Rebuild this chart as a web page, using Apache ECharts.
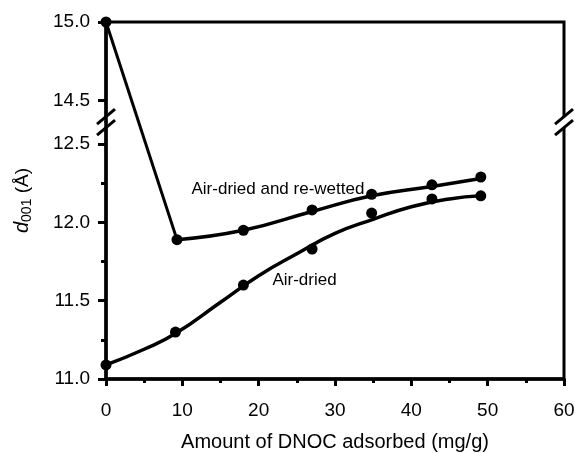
<!DOCTYPE html>
<html>
<head>
<meta charset="utf-8">
<script src="https://cdn.jsdelivr.net/npm/echarts@6/dist/echarts.min.js"></script>
<style>
html, body { margin: 0; padding: 0; background: #fff; }
#main { width: 575px; height: 453px; }
</style>
</head>
<body>
<div id="main"></div>
<script>
// measured points
var wettedX = [0, 9.3, 18, 27, 34.8, 42.7, 49.1];
var wettedY = [15.0, 11.89, 11.95, 12.08, 12.18, 12.24, 12.29];
var driedX = [0, 9.1, 18, 27, 34.8, 42.7, 49.1];
var driedY = [11.09, 11.30, 11.60, 11.83, 12.06, 12.15, 12.17];

// fitted curves as drawn in the figure
var wettedFitX = [9.3, 18, 27, 34.8, 42.7, 49.1];
var wettedFitY = [11.89, 11.95, 12.07, 12.17, 12.23, 12.28];
var driedFitX = [0, 5, 9.1, 15, 20, 25, 30, 35, 40, 45, 49.1];
var driedFitY = [11.09, 11.19, 11.29, 11.49, 11.66, 11.80, 11.93, 12.02, 12.10, 12.15, 12.17];

// y ticks (axis is cut between breakLow and breakHigh)
var yTicks = [11.0, 11.5, 12.0, 12.5, 14.5, 15.0];
var yMinorTicks = [11.25, 11.75, 12.25];
var breakLow = 12.64;
var breakHigh = 14.36;

function pairs(xs, ys) {
    return xs.map(function (x, i) { return [x, ys[i]]; });
}

var main = echarts.init(document.getElementById('main'));

var font = 'Liberation Sans, Arial, sans-serif';

var yBase = {
    type: 'value',
    min: 11, max: 15,
    breaks: [{ start: breakLow, end: breakHigh, gap: 0 }],
    breakArea: { show: false },
    splitLine: { show: false }
};

option = {
    animation: false,
    textStyle: { fontFamily: font },
    grid: {
        left: 106, right: 11, top: 22, bottom: 74,
        outerBoundsMode: 'none',
        containLabel: false,
        show: true,
        borderColor: '#000',
        borderWidth: 3
    },
    xAxis: {
        type: 'value',
        min: 0, max: 60, interval: 10,
        name: 'Amount of DNOC adsorbed (mg/g)',
        nameLocation: 'middle',
        nameGap: 53,
        nameTextStyle: { fontSize: 20, color: '#000', fontFamily: font },
        axisLine: { lineStyle: { color: '#000', width: 3.5 } },
        axisTick: { inside: false, length: 7, lineStyle: { width: 3, color: '#000' } },
        minorTick: { show: true, splitNumber: 2, length: 4, lineStyle: { width: 3, color: '#000' } },
        axisLabel: { fontSize: 19, color: '#000', margin: 22, fontFamily: font },
        splitLine: { show: false }
    },
    yAxis: [
        Object.assign({}, yBase, {
            name: '{it|d}{sub|001} (Å)',
            nameLocation: 'middle',
            nameGap: 72,
            nameRotate: 90,
            nameTextStyle: {
                fontSize: 19, color: '#000', fontFamily: font,
                rich: {
                    it: { fontSize: 20, fontStyle: 'italic', color: '#000', fontFamily: font },
                    sub: { fontSize: 14, color: '#000', verticalAlign: 'bottom', padding: [9, 0, 0, 0], fontFamily: font }
                }
            },
            axisLine: { show: true, lineStyle: { color: '#000', width: 3.5 } },
            axisTick: { inside: false, length: 8, customValues: yTicks, lineStyle: { width: 3, color: '#000' } },
            axisLabel: {
                fontSize: 19, color: '#000', margin: 16, fontFamily: font,
                customValues: yTicks,
                formatter: function (v) { return v.toFixed(1); }
            }
        }),
        Object.assign({}, yBase, {
            position: 'left',
            axisLine: { show: false },
            axisTick: { show: true, inside: false, length: 5, customValues: yMinorTicks, lineStyle: { width: 3, color: '#000' } },
            axisLabel: { show: false }
        })
    ],
    series: [
        {
            name: 'drop', type: 'line', symbol: 'none',
            data: pairs(wettedX.slice(0, 2), wettedY.slice(0, 2)),
            lineStyle: { color: '#000', width: 3 }
        },
        {
            name: 'wetted fit', type: 'line', symbol: 'none', smooth: true,
            data: pairs(wettedFitX, wettedFitY),
            lineStyle: { color: '#000', width: 3.5 }
        },
        {
            name: 'dried fit', type: 'line', symbol: 'none', smooth: true,
            data: pairs(driedFitX, driedFitY),
            lineStyle: { color: '#000', width: 3.5 }
        },
        {
            name: 'Air-dried and re-wetted', type: 'scatter', symbolSize: 11,
            data: pairs(wettedX, wettedY),
            itemStyle: { color: '#000', opacity: 1 }
        },
        {
            name: 'Air-dried', type: 'scatter', symbolSize: 11,
            data: pairs(driedX, driedY),
            itemStyle: { color: '#000', opacity: 1 }
        }
    ]
};
main.setOption(option);

// break marks and curve labels placed from axis coordinates
var xl = main.convertToPixel({ xAxisIndex: 0 }, 0);
var xr = main.convertToPixel({ xAxisIndex: 0 }, 60);
var yb = main.convertToPixel({ yAxisIndex: 0 }, breakLow);

function breakMark(x) {
    return {
        type: 'group', x: x, y: yb, z: 100,
        children: [
            { type: 'polygon', shape: { points: [[-9, 2], [9, -13], [9, -2], [-9, 13]] },
              style: { fill: '#fff' } },
            { type: 'line', shape: { x1: -9, y1: 2, x2: 9, y2: -13 }, style: { stroke: '#000', lineWidth: 3 } },
            { type: 'line', shape: { x1: -9, y1: 13, x2: 9, y2: -2 }, style: { stroke: '#000', lineWidth: 3 } }
        ]
    };
}

function note(text, x, y) {
    var p = main.convertToPixel({ gridIndex: 0 }, [x, y]);
    return {
        type: 'text', x: p[0], y: p[1], z: 100,
        style: { text: text, fontSize: 17, fill: '#000', fontFamily: font, textVerticalAlign: 'middle' }
    };
}

main.setOption({
    graphic: [
        breakMark(xl),
        breakMark(xr),
        note('Air-dried and re-wetted', 11.2, 12.21),
        note('Air-dried', 21.8, 11.63)
    ]
});
</script>
</body>
</html>
